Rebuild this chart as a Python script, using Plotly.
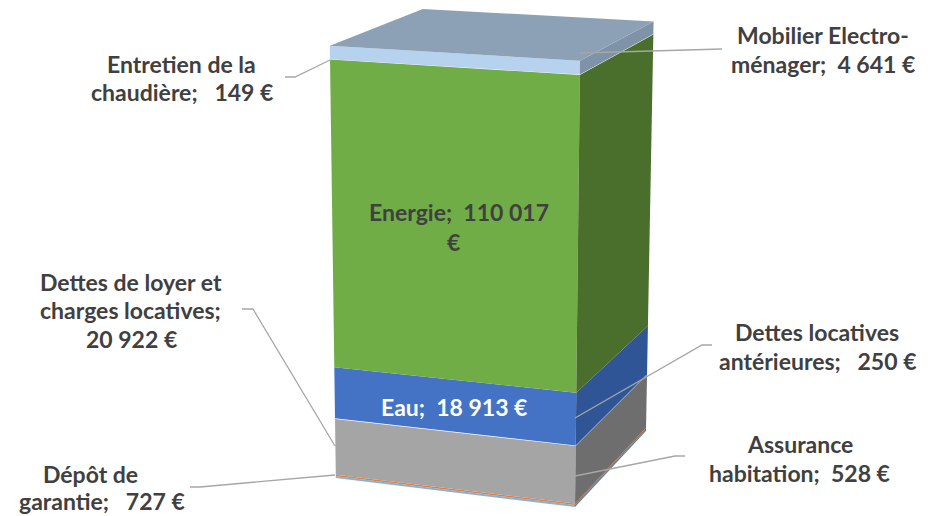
import plotly.graph_objects as go

# Data (bottom of the stack first)
categories = ["Dépôt de garantie", "Assurance habitation", "Dettes de loyer et charges locatives",
              "Dettes locatives antérieures", "Eau", "Energie", "Entretien de la chaudière",
              "Mobilier Electroménager"]
values = [727, 528, 20922, 250, 18913, 110017, 149, 4641]
front_colors = ["#7FB2E0", "#E07F3E", "#A5A5A5", "#E8B84A", "#4472C4", "#70AD47", "#4F7A33", "#B7D2EE"]
side_colors = ["#4F7FAF", "#A85C2C", "#6E6E6E", "#A8853A", "#2F5597", "#4A6F2C", "#3C5A28", "#7F93A8"]
top_color = "#8DA1B6"

# Labels: text, centre x, centre y (px), colour
label_texts = ["Entretien de la", "chaudière;   149 €", "Mobilier Electro-", "ménager;  4 641 €",
               "Energie;  110 017", "€", "Dettes de loyer et", "charges locatives;", "20 922 €",
               "Dettes locatives", "antérieures;   250 €", "Eau;  18 913 €", "Assurance",
               "habitation;  528 €", "Dépôt de", "garantie;   727 €"]
label_x = [181, 182, 823, 823, 459, 453, 131, 130, 131, 817, 817, 454, 800, 799, 90, 102]
label_y = [64, 92, 35, 64, 212, 242, 282, 310, 339, 332, 361, 407, 444, 473, 474, 501]
label_colors = ["#404040"] * 11 + ["#FFFFFF"] + ["#404040"] * 4

# Leader lines (px)
leaders = [
    ([285, 295, 330], [77, 77, 60]),
    ([580, 722], [53, 49]),
    ([242, 253, 335], [309, 309, 446]),
    ([575, 702, 712], [418, 345, 345]),
    ([575, 675, 685], [476, 456, 456]),
    ([335, 200, 190], [475, 487, 487]),
]

# Projective camera: image of the box origin, vanishing points and axis weights
ORIGIN = (575.0, 507.0)
VP_X, VP_Y, VP_Z = (-6740.0, -378.0), (1401.0, -378.0), (468.0, 10000.0)
A, B, C = 0.0338, 0.094, -0.0449


def project(u, v, w):
    d = 1 + A * u + B * v + C * w
    px = (ORIGIN[0] + A * u * VP_X[0] + B * v * VP_Y[0] + C * w * VP_Z[0]) / d
    py = (ORIGIN[1] + A * u * VP_X[1] + B * v * VP_Y[1] + C * w * VP_Z[1]) / d
    return px, py


def poly(corners, color, name, value):
    pts = [project(*c) for c in corners] + [project(*corners[0])]
    return go.Scatter(x=[p[0] for p in pts], y=[p[1] for p in pts], mode="lines", fill="toself",
                      fillcolor=color, line=dict(width=0), name=name, showlegend=False,
                      hoveron="fills", text=f"{name}: {value} €", hoverinfo="text")


total = sum(values)
fig = go.Figure()
cum = 0
for name, val, fc, sc in zip(categories, values, front_colors, side_colors):
    w0, w1 = cum / total, (cum + val) / total
    fig.add_trace(poly([(0, 0, w0), (1, 0, w0), (1, 0, w1), (0, 0, w1)], fc, name, val))
    fig.add_trace(poly([(0, 0, w0), (0, 1, w0), (0, 1, w1), (0, 0, w1)], sc, name, val))
    cum += val
fig.add_trace(poly([(0, 0, 1), (1, 0, 1), (1, 1, 1), (0, 1, 1)], top_color, categories[-1], values[-1]))

for lx, ly in leaders:
    fig.add_trace(go.Scatter(x=lx, y=ly, mode="lines", line=dict(color="#A6A6A6", width=1.3),
                             showlegend=False, hoverinfo="skip"))

for t, x, y, c in zip(label_texts, label_x, label_y, label_colors):
    fig.add_annotation(x=x, y=y, text=f"<b>{t.replace('  ', '&nbsp;&nbsp;')}</b>", showarrow=False,
                       xanchor="center", yanchor="middle",
                       font=dict(family="Lato", size=23, color=c))

fig.update_layout(width=933, height=516, margin=dict(l=0, r=0, t=0, b=0),
                  paper_bgcolor="white", plot_bgcolor="white", showlegend=False,
                  xaxis=dict(range=[0, 933], visible=False, fixedrange=True),
                  yaxis=dict(range=[516, 0], visible=False, fixedrange=True))
fig.write_html("out.html", config={"displayModeBar": False},
               post_script="document.body.style.margin='0';document.body.style.overflow='hidden';")
